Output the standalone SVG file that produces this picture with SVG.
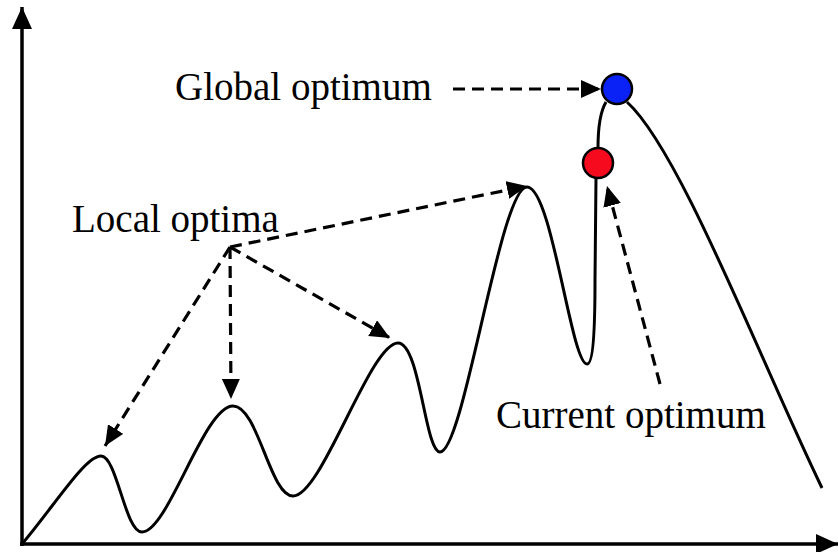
<svg xmlns="http://www.w3.org/2000/svg" width="838" height="552" viewBox="0 0 838 552">
<style>
.lbl{font-family:"Liberation Serif","Times New Roman",serif;font-size:39px;fill:#000}
.axis{stroke:#000;stroke-width:3.5;fill:none}
.curve{stroke:#000;stroke-width:3;fill:none;stroke-linejoin:round}
.dash{stroke:#000;stroke-width:3.2;fill:none;stroke-dasharray:12,7}
</style>
<defs>
<marker id="ah" markerUnits="userSpaceOnUse" viewBox="0 0 20 18" refX="20" refY="9" markerWidth="20" markerHeight="18" orient="auto">
<path d="M0,0 L20,9 L0,18 z" fill="#000"/>
</marker>
<marker id="axh" markerUnits="userSpaceOnUse" viewBox="0 0 22 20" refX="22" refY="10" markerWidth="22" markerHeight="20" orient="auto">
<path d="M0,0 L22,10 L0,20 z" fill="#000"/>
</marker>
</defs>
<g id="axes">
<line class="axis" x1="22" y1="546" x2="22" y2="7" marker-end="url(#axh)"/>
<line class="axis" x1="20" y1="544" x2="838" y2="544" marker-end="url(#axh)"/>
</g>
<g id="landscape">
<path class="curve" d="M22,544 C55,505 85,456 101,456 C117,456 125,532 142,532 C168,532 204,406 233,406 C258,406 270,496 293,496 C322,496 370,343 398,343 C420,343 425,452 440,452 C464,452 500,187 527,187 C552,187 571,364 587,364 C593,364 595,330 595,280 L596,178"/>
<path class="curve" d="M598,148 C598,130 600,112 606,102"/>
<path class="curve" d="M627,102 C680,150 760,360 822,488"/>
</g>
<g id="connectors">
<line class="dash" x1="453" y1="89" x2="601" y2="89" marker-end="url(#ah)"/>
<line class="dash" x1="230" y1="247" x2="105" y2="446" marker-end="url(#ah)"/>
<line class="dash" x1="230" y1="247" x2="231" y2="399" marker-end="url(#ah)"/>
<line class="dash" x1="230" y1="247" x2="390" y2="338" marker-end="url(#ah)"/>
<line class="dash" x1="230" y1="247" x2="527" y2="186" marker-end="url(#ah)"/>
<line class="dash" x1="660" y1="384" x2="607" y2="186" marker-end="url(#ah)"/>
</g>
<g id="global-optimum">
<circle cx="617" cy="89" r="15" fill="#0a22f5" stroke="#000" stroke-width="2.5"/>
<text class="lbl" x="175" y="100">Global optimum</text>
</g>
<g id="current-optimum">
<circle cx="598" cy="163" r="15" fill="#f50a1e" stroke="#000" stroke-width="2.5"/>
<text class="lbl" x="496" y="428">Current optimum</text>
</g>
<g id="local-optima">
<text class="lbl" x="72" y="232">Local optima</text>
</g>
</svg>
